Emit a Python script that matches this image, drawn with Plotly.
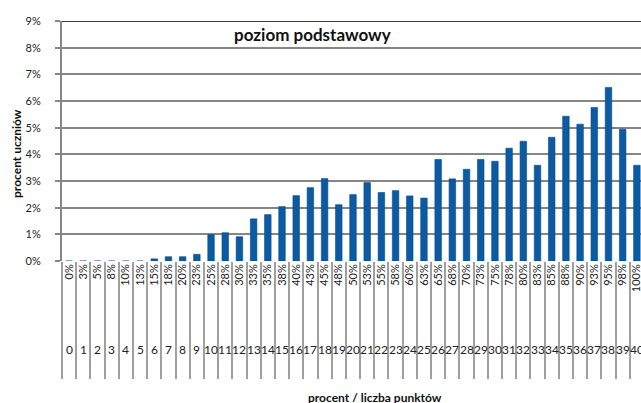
import plotly.graph_objects as go

points = list(range(41))
percent_labels = ["0%", "3%", "5%", "8%", "10%", "13%", "15%", "18%", "20%", "23%",
                  "25%", "28%", "30%", "33%", "35%", "38%", "40%", "43%", "45%", "48%",
                  "50%", "53%", "55%", "58%", "60%", "63%", "65%", "68%", "70%", "73%",
                  "75%", "78%", "80%", "83%", "85%", "88%", "90%", "93%", "95%", "98%", "100%"]
students_pct = [0, 0, 0, 0, 0, 0, 0.08, 0.16, 0.16, 0.25,
                0.99, 1.06, 0.91, 1.58, 1.74, 2.04, 2.45, 2.75, 3.09, 2.11,
                2.49, 2.94, 2.57, 2.64, 2.44, 2.36, 3.81, 3.08, 3.44, 3.81,
                3.74, 4.23, 4.49, 3.59, 4.64, 5.43, 5.13, 5.76, 6.51, 4.94, 3.59]
y_ticks = [0, 0.01, 0.02, 0.03, 0.04, 0.05, 0.06, 0.07, 0.08, 0.09]

FONT = "Lato"
GRID = "#868686"

fig = go.Figure()
fig.add_trace(go.Bar(
    x=points,
    y=[v / 100 for v in students_pct],
    width=0.46,
    marker=dict(color="#0b5aa2", line=dict(color="#074c8c", width=0.6)),
    hoverinfo="skip",
))

# darker top line at 9%
shapes = [dict(type="line", xref="paper", yref="y", x0=0, x1=1,
               y0=y_ticks[-1], y1=y_ticks[-1], line=dict(color="#3a3a3a", width=2))]

annotations = []
for k in points:
    annotations.append(dict(x=k, y=-0.37, xref="x", yref="paper", text=str(k),
                            showarrow=False, xanchor="center", yanchor="middle",
                            font=dict(family=FONT, size=12, color="#222222")))
annotations.append(dict(x=0.432, y=0.942, xref="paper", yref="paper",
                        text="<b>poziom podstawowy</b>", showarrow=False,
                        xanchor="center", yanchor="middle",
                        font=dict(family=FONT, size=17, color="#111111")))
annotations.append(dict(x=-0.0795, y=0.45, xref="paper", yref="paper",
                        text="<b>procent uczniów</b>", showarrow=False, textangle=-90,
                        xanchor="center", yanchor="middle",
                        font=dict(family=FONT, size=12, color="#111111")))
annotations.append(dict(x=0.541, y=-0.528, xref="paper", yref="paper",
                        text="<b>procent / liczba punktów</b>", showarrow=False,
                        xanchor="center", yanchor="top",
                        font=dict(family=FONT, size=12, color="#111111")))

fig.update_layout(
    width=641, height=403,
    margin=dict(l=62, r=0, t=21, b=142),
    paper_bgcolor="white", plot_bgcolor="white",
    showlegend=False,
    shapes=shapes,
    annotations=annotations,
    xaxis=dict(range=[-0.5, 40.29], tickmode="array", tickvals=points,
               ticktext=percent_labels, tickangle=-90, ticks="",
               ticklabeloverflow="allow",
               showgrid=False, zeroline=False, showline=False, automargin=False,
               minor=dict(tickmode="linear", tick0=-0.5, dtick=1, ticks="outside",
                          ticklen=117, tickwidth=1.6, tickcolor="#a0a0a0", showgrid=False),
               tickfont=dict(family=FONT, size=11, color="#222222")),
    yaxis=dict(range=[0, 0.09], tickmode="array", tickvals=y_ticks,
               tickformat=".0%", ticks="outside", ticklen=5, tickcolor=GRID, tickwidth=2,
               showgrid=True, gridcolor=GRID, gridwidth=2,
               showline=True, linecolor=GRID, linewidth=2, automargin=False,
               zeroline=False, ticklabelstandoff=12,
               tickfont=dict(family=FONT, size=11, color="#222222")),
)

fig.write_html("out.html", config={"displayModeBar": False},
               post_script="document.body.style.margin='0px';document.body.style.overflow='hidden';")
